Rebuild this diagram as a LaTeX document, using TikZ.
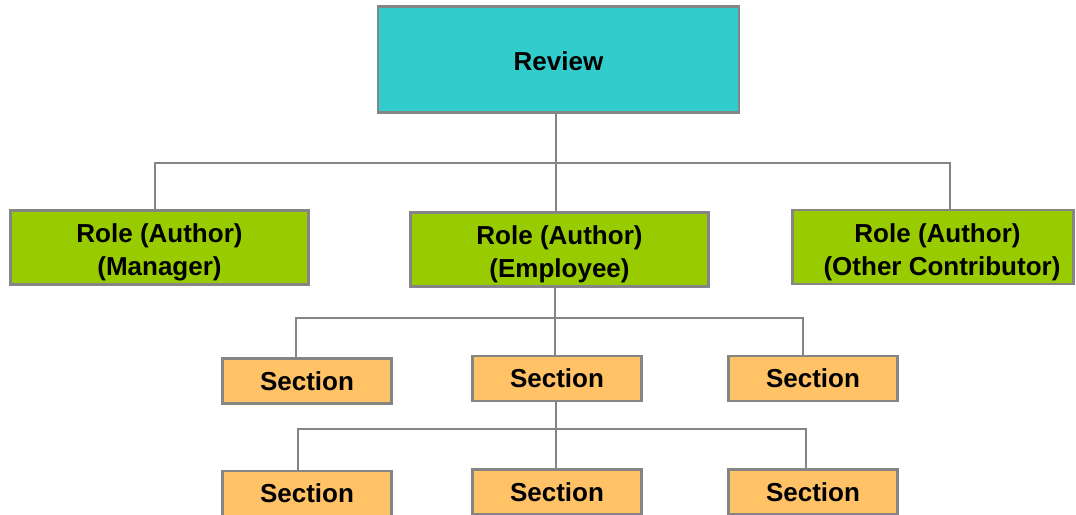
\documentclass[tikz,border=0pt]{standalone}
\usepackage{fontspec}
\setmainfont{Liberation Sans}
\definecolor{revcyan}{HTML}{33CCCC}
\definecolor{rolegreen}{HTML}{99CC00}
\definecolor{secorange}{HTML}{FFC266}
\definecolor{boxgray}{HTML}{858585}
\definecolor{linegray}{HTML}{858585}
\newcommand{\upstrut}[1]{\rule{0pt}{#1}}
\begin{document}
\begin{tikzpicture}[x=1pt,y=-1pt,
  box/.style={draw=boxgray,line width=2.6pt,inner sep=0pt,
    font=\bfseries\fontsize{26}{33}\selectfont,align=center},
  review/.style={box,fill=revcyan,minimum width=361pt,minimum height=106pt},
  role/.style={box,fill=rolegreen,minimum width=298pt,minimum height=74pt},
  sect/.style={box,fill=secorange,minimum width=169pt,minimum height=45pt},
  link/.style={draw=linegray,line width=2.5pt}]
\useasboundingbox (0,0) rectangle (1076,514);
\clip (0,0) rectangle (1076,514);
\node[review] (rev) at (558.5,59.5) {\upstrut{23pt}Review};
\node[role] (g1) at (159.5,247.5) {\upstrut{28.5pt}Role (Author)\\(Manager)};
\node[role] (g2) at (559.5,249.5) {\upstrut{28.5pt}Role (Author)\\(Employee)};
\node[role,minimum width=281pt] (g3) at (933,247) {\upstrut{28.5pt}\hspace*{9pt}Role (Author)\\\hspace*{18pt}(Other Contributor)};
\node[sect] (s1) at (307,381) {Section};
\node[sect] (s2) at (557,378.5) {Section};
\node[sect] (s3) at (813,378.5) {Section};
\node[sect] (t1) at (307,493.5) {Section};
\node[sect] (t2) at (557,492) {Section};
\node[sect] (t3) at (813,492) {Section};
% level 1
\coordinate (b1) at (556,163);
\draw[link] (rev.south -| b1) -- (b1);
\draw[link] ([xshift=-4.5pt]g1.north) |- ([xshift=17pt]g3.north |- b1) -- ([xshift=17pt]g3.north);
\draw[link] (b1) -- (g2.north -| b1);
% level 2
\coordinate (b2) at (555,318);
\draw[link] (g2.south -| b2) -- (b2);
\draw[link] ([xshift=-11pt]s1.north) |- ([xshift=-10pt]s3.north |- b2) -- ([xshift=-10pt]s3.north);
\draw[link] (b2) -- (s2.north -| b2);
% level 3
\coordinate (b3) at (556,429);
\draw[link] (s2.south -| b3) -- (b3);
\draw[link] ([xshift=-9pt]t1.north) |- ([xshift=-7pt]t3.north |- b3) -- ([xshift=-7pt]t3.north);
\draw[link] (b3) -- (t2.north -| b3);
\end{tikzpicture}
\end{document}
